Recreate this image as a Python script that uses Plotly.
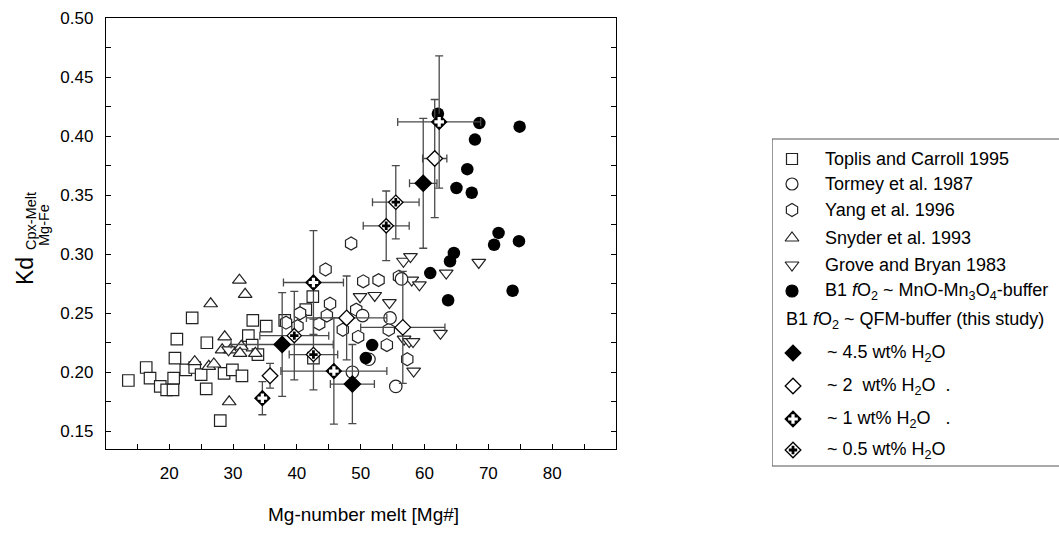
import plotly.graph_objects as go

# ---------------- literature data (Mg# melt, Kd Mg-Fe cpx/melt) ----------------
toplis_x = [13.6, 16.4, 17.0, 18.6, 19.6, 20.6, 20.7, 20.9, 21.2, 22.6, 23.6, 24.0, 25.0, 25.8,
            25.9, 28.6, 29.9, 31.4, 28.0, 32.4, 33.1, 33.0, 33.9, 35.2, 38.1, 41.4, 42.5, 42.6]
toplis_y = [0.193, 0.204, 0.195, 0.188, 0.185, 0.185, 0.195, 0.212, 0.228, 0.202, 0.246, 0.204, 0.198, 0.186,
            0.225, 0.199, 0.202, 0.197, 0.159, 0.231, 0.244, 0.223, 0.215, 0.239, 0.244, 0.253, 0.264, 0.212]

tormey_x = [50.3, 54.6, 48.7, 51.3, 55.5, 56.4]
tormey_y = [0.248, 0.246, 0.200, 0.211, 0.188, 0.279]

yang_x = [48.5, 44.5, 50.4, 52.8, 45.2, 40.5, 38.3, 40.1, 43.5, 44.7, 49.3, 47.2, 49.6, 54.4, 54.1, 57.3, 56.0]
yang_y = [0.309, 0.287, 0.277, 0.278, 0.258, 0.250, 0.242, 0.239, 0.241, 0.248, 0.253, 0.236, 0.230, 0.236,
          0.223, 0.211, 0.281]

snyder_x = [31.0, 31.9, 26.5, 28.7, 28.3, 29.6, 31.3, 31.1, 33.5, 24.0, 26.2, 27.0, 29.4]
snyder_y = [0.278, 0.266, 0.258, 0.230, 0.219, 0.219, 0.222, 0.216, 0.216, 0.209, 0.205, 0.207, 0.175]

grove_x = [56.7, 57.8, 68.5, 63.4, 49.9, 52.2, 54.5, 58.0, 59.2, 62.5, 56.8, 57.6, 58.2, 58.3, 29.3]
grove_y = [0.294, 0.298, 0.293, 0.284, 0.264, 0.265, 0.259, 0.278, 0.274, 0.233, 0.228, 0.226, 0.226, 0.201, 0.219]

# ---------------- this study ----------------
mno_x = [62.1, 68.6, 74.9, 67.9, 66.7, 65.0, 67.4, 71.6, 70.9, 74.8, 64.6, 64.0, 60.9, 73.8, 63.7, 51.8, 50.8]
mno_y = [0.419, 0.411, 0.408, 0.397, 0.372, 0.356, 0.352, 0.318, 0.308, 0.311, 0.301, 0.294, 0.284, 0.269,
         0.261, 0.223, 0.212]

# QFM-buffer runs, grouped by water content, with 1-sigma errors
h2o45_x = [59.8, 37.7, 48.7]
h2o45_y = [0.360, 0.2235, 0.190]
h2o45_ex = [2.15, 8.0, 3.45]
h2o45_ey = [0.055, 0.044, 0.0335]

h2o2_x = [61.6, 47.8, 56.6, 35.8]
h2o2_y = [0.381, 0.246, 0.238, 0.197]
h2o2_ex = [1.9, 6.3, 6.6, 0.0]
h2o2_ey = [0.050, 0.0355, 0.0475, 0.0105]

h2o1_x = [42.6, 34.6, 45.8, 62.3]
h2o1_y = [0.276, 0.178, 0.201, 0.412]
h2o1_ex = [4.7, 0.0, 8.3, 6.5]
h2o1_ey = [0.044, 0.014, 0.045, 0.056]

h2o05_x = [55.5, 54.0, 39.6, 42.6]
h2o05_y = [0.344, 0.324, 0.231, 0.215]
h2o05_ex = [3.65, 3.6, 5.4, 3.8]
h2o05_ey = [0.031, 0.0295, 0.0375, 0.030]

x_ticks = [20, 30, 40, 50, 60, 70, 80]
y_ticks = [0.15, 0.20, 0.25, 0.30, 0.35, 0.40, 0.45, 0.50]

# ---------------- figure geometry (pixels) ----------------
W, H = 1059, 544
ML, MT, MB = 106, 18, 20
PW, PH = W - ML, H - MT - MB
PLOT_R, PLOT_B = 616, 449
FONT = "Liberation Sans, Arial, sans-serif"
LINE = "#222222"
ERR = "#4a4a4a"


def px(X):
    return (X - ML) / PW


def py(Y):
    return (H - MB - Y) / PH


fig = go.Figure()


def open_trace(x, y, symbol, size):
    fig.add_trace(go.Scatter(
        x=x, y=y, mode="markers", showlegend=False,
        marker=dict(symbol=symbol, size=size, color="white", line=dict(color=LINE, width=1.2)),
    ))


open_trace(toplis_x, toplis_y, "square", 11.5)
open_trace(snyder_x, snyder_y, "triangle-up", 12)
open_trace(grove_x, grove_y, "triangle-down", 12)
open_trace(yang_x, yang_y, "hexagon", 13)
open_trace(tormey_x, tormey_y, "circle", 12.5)

fig.add_trace(go.Scatter(
    x=mno_x, y=mno_y, mode="markers", showlegend=False,
    marker=dict(symbol="circle", size=12.5, color="black", line=dict(width=0)),
))


def err(arr):
    return dict(type="data", array=arr, visible=True, color=ERR, thickness=1.3, width=4)


def qfm_trace(x, y, ex, ey, fill, size, cross=None):
    fig.add_trace(go.Scatter(
        x=x, y=y, mode="markers", showlegend=False,
        error_x=err(ex), error_y=err(ey),
        marker=dict(symbol="diamond", size=size, color=fill, line=dict(color="black", width=1.3)),
    ))
    if cross is not None:
        fig.add_trace(go.Scatter(
            x=x, y=y, mode="markers", showlegend=False,
            marker=dict(symbol="cross", size=cross[1], color=cross[0], line=dict(width=0)),
        ))


qfm_trace(h2o2_x, h2o2_y, h2o2_ex, h2o2_ey, "white", 12)
qfm_trace(h2o05_x, h2o05_y, h2o05_ex, h2o05_ey, "white", 11, cross=("black", 7))
qfm_trace(h2o1_x, h2o1_y, h2o1_ex, h2o1_ey, "black", 11.5, cross=("white", 8))
qfm_trace(h2o45_x, h2o45_y, h2o45_ex, h2o45_ey, "black", 12.5)

# ---------------- legend drawn on a helper axis in pixel units ----------------
LEG_SX, LEG_TX = 792, 823
LEG_FONT = dict(family=FONT, size=18, color="black")
leg_rows = [
    ("square", "white", "Toplis and Carroll 1995", 159),
    ("circle", "white", "Tormey et al. 1987", 184),
    ("hexagon", "white", "Yang et al. 1996", 210),
    ("triangle-up", "white", "Snyder et al. 1993", 238),
    ("triangle-down", "white", "Grove and Bryan 1983", 265),
    ("circle", "black", "B1 <i>f</i>O<sub>2</sub> ~ MnO-Mn<sub>3</sub>O<sub>4</sub>-buffer", 291),
]
leg_sizes = {"square": 11, "circle": 12, "hexagon": 13, "triangle-up": 12, "triangle-down": 12}
for sym, fill, label, ry in leg_rows:
    fig.add_trace(go.Scatter(
        x=[LEG_SX], y=[ry], xaxis="x2", yaxis="y2", mode="markers", showlegend=False,
        marker=dict(symbol=sym, size=leg_sizes[sym], color=fill,
                    line=dict(color=LINE if fill == "white" else "black", width=1.2)),
    ))
    fig.add_annotation(x=LEG_TX, y=ry, xref="x2", yref="y2", text=label, showarrow=False,
                       xanchor="left", yanchor="middle", font=LEG_FONT)

fig.add_annotation(x=784, y=320, xref="x2", yref="y2",
                   text="B1 <i>f</i>O<sub>2</sub> ~ QFM-buffer (this study)", showarrow=False,
                   xanchor="left", yanchor="middle", font=LEG_FONT)

h2o_rows = [
    ("black", None, "~ 4.5 wt% H<sub>2</sub>O", 353),
    ("white", None, "~ 2\u00a0 wt% H<sub>2</sub>O\u00a0 .", 386),
    ("black", ("white", 8), "~ 1 wt% H<sub>2</sub>O\u00a0\u00a0 .", 419),
    ("white", ("black", 7), "~ 0.5 wt% H<sub>2</sub>O", 450),
]
for fill, cross, label, ry in h2o_rows:
    fig.add_trace(go.Scatter(
        x=[LEG_SX + 1], y=[ry], xaxis="x2", yaxis="y2", mode="markers", showlegend=False,
        marker=dict(symbol="diamond", size=12, color=fill, line=dict(color="black", width=1.3)),
    ))
    if cross:
        fig.add_trace(go.Scatter(
            x=[LEG_SX + 1], y=[ry], xaxis="x2", yaxis="y2", mode="markers", showlegend=False,
            marker=dict(symbol="cross", size=cross[1], color=cross[0], line=dict(width=0)),
        ))
    fig.add_annotation(x=LEG_TX + 2, y=ry, xref="x2", yref="y2", text=label, showarrow=False,
                       xanchor="left", yanchor="middle", font=LEG_FONT)

fig.add_shape(type="rect", xref="x2", yref="y2", x0=772, x1=1080, y0=139, y1=466,
              line=dict(color="#555555", width=1.2), fillcolor="rgba(0,0,0,0)", layer="below")

# ---------------- axis titles ----------------
fig.add_annotation(x=px(363), y=py(514), xref="paper", yref="paper", text="Mg-number melt [Mg#]",
                   showarrow=False, xanchor="center", yanchor="middle",
                   font=dict(family=FONT, size=19, color="black"))
fig.add_annotation(x=px(25), y=py(271), xref="paper", yref="paper", text="Kd", textangle=-90,
                   showarrow=False, xanchor="center", yanchor="middle",
                   font=dict(family=FONT, size=23, color="black"))
fig.add_annotation(x=px(31), y=py(221), xref="paper", yref="paper", text="Cpx-Melt", textangle=-90,
                   showarrow=False, xanchor="center", yanchor="middle",
                   font=dict(family=FONT, size=14.5, color="black"))
fig.add_annotation(x=px(44), y=py(225), xref="paper", yref="paper", text="Mg-Fe", textangle=-90,
                   showarrow=False, xanchor="center", yanchor="middle",
                   font=dict(family=FONT, size=14.5, color="black"))

fig.update_layout(
    width=W, height=H,
    margin=dict(l=ML, r=0, t=MT, b=MB, pad=0),
    paper_bgcolor="white", plot_bgcolor="white",
    font=dict(family=FONT, size=17, color="black"),
    xaxis=dict(
        domain=[0, px(PLOT_R)], range=[10.1, 90], tickmode="array", tickvals=x_ticks,
        ticktext=[str(v) for v in x_ticks], ticks="inside", ticklen=5, tickcolor="black",
        ticklabelstandoff=8,
        showline=True, linecolor="black", linewidth=1.3, mirror=True,
        showgrid=False, zeroline=False,
        minor=dict(dtick=5, tick0=0, ticks="inside", ticklen=5, tickcolor="black"),
    ),
    yaxis=dict(
        domain=[py(PLOT_B), 1], range=[0.135, 0.50], tickmode="array", tickvals=y_ticks,
        ticktext=[f"{v:.2f}" for v in y_ticks], ticks="inside", ticklen=5, tickcolor="black",
        ticklabelstandoff=8,
        showline=True, linecolor="black", linewidth=1.3, mirror="ticks",
        showgrid=False, zeroline=False,
        minor=dict(dtick=0.025, tick0=0, ticks="inside", ticklen=5, tickcolor="black"),
    ),
    xaxis2=dict(domain=[px(772), 1], range=[772, W], visible=False, anchor="y2", fixedrange=True),
    yaxis2=dict(domain=[0, 1], range=[H - MB, MT], visible=False, anchor="x2", fixedrange=True),
)

fig.write_html("out.html")
